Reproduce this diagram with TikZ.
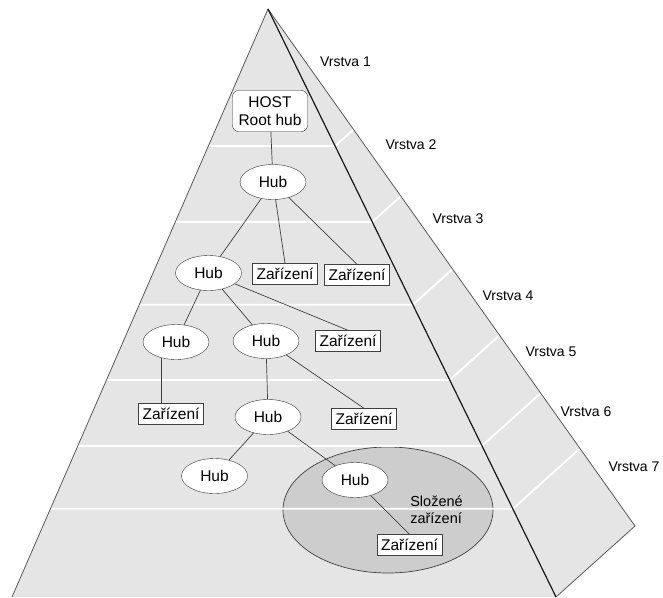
\documentclass[tikz,border=0pt]{standalone}
\usepackage{fontspec}
\setmainfont{Liberation Sans}
\usetikzlibrary{shapes.geometric,calc}
\definecolor{faceGray}{RGB}{229,229,229}
\definecolor{compGray}{RGB}{205,205,205}
\begin{document}
\begin{tikzpicture}[x=1pt,y=-1pt,
  hub/.style={ellipse,draw=black!80,fill=white,minimum width=66,minimum height=35,inner sep=0pt,font=\fontsize{15.5}{18}\selectfont},
  dev/.style={rectangle,draw=black!75,fill=white,minimum width=65,minimum height=21,inner sep=1pt,font=\fontsize{15.5}{18}\selectfont},
  layer/.style={font=\fontsize{14}{16}\selectfont},
  link/.style={draw=black!75,line width=0.7pt}]
  \useasboundingbox (0,0) rectangle (663,597);
  \coordinate (top) at (268,9);
  \coordinate (lft) at (12,597);
  \coordinate (frt) at (556,597);
  \coordinate (bck) at (635,526);
  \fill[faceGray] (top) -- (bck) -- (frt) -- cycle;
  \fill[faceGray] (top) -- (lft) -- (frt) -- cycle;
  \node[ellipse,draw=black!75,fill=compGray,minimum width=210,minimum height=126,line width=0.7pt] (comp) at (388,510) {};
  \foreach \t in {0.233,0.362,0.503,0.631,0.743,0.850}
    \draw[white,line width=1.8pt] ($(top)!\t!(lft)$) -- ($(top)!\t!(frt)$) -- ($(top)!\t!(bck)$);
  \draw[black!65,line width=0.8pt] (top) -- (lft);
  \draw[black!65,line width=0.8pt] (top) -- (bck) -- (frt);
  \draw[black!90,line width=1.2pt] (top) -- (frt);
  \node[layer] (v1) at (345.5,62) {Vrstva 1};
  \node[layer] (v2) at (411,145) {Vrstva 2};
  \node[layer] (v3) at (458,219) {Vrstva 3};
  \node[layer] (v4) at (508,296) {Vrstva 4};
  \node[layer] (v5) at (551,352) {Vrstva 5};
  \node[layer] (v6) at (586,412) {Vrstva 6};
  \node[layer] (v7) at (634,467) {Vrstva 7};
  \node[draw=black!80,fill=white,rounded corners=6pt,minimum width=75,minimum height=41,inner sep=1pt,align=center,font=\fontsize{15.5}{18.5}\selectfont] (host) at (270,111) {HOST\\Root hub};
  \node[hub] (hA) at (273,182) {Hub};
  \node[hub] (hB) at (208.5,273) {Hub};
  \node[dev] (dA) at (285,274) {Zařízení};
  \node[dev] (dB) at (357,275) {Zařízení};
  \node[hub] (hC) at (176,342) {Hub};
  \node[hub] (hD) at (266,341) {Hub};
  \node[dev] (dC) at (348,341) {Zařízení};
  \node[dev] (dD) at (171,414) {Zařízení};
  \node[hub] (hE) at (268,417) {Hub};
  \node[dev] (dE) at (364,419) {Zařízení};
  \node[hub] (hF) at (214.5,476) {Hub};
  \node[hub] (hG) at (355,480) {Hub};
  \node[dev] (dF) at (409.5,545) {Zařízení};
  \node[align=left,font=\fontsize{14.5}{17}\selectfont] (ctext) at (436.5,510) {Složené\\zařízení};
  \draw[link] (host) -- (hA);
  \draw[link] (hA) -- (hB);
  \draw[link] (hA) -- (dA.north);
  \draw[link] (hA) -- (dB.north);
  \draw[link] (hB) -- (hC);
  \draw[link] (hB) -- (hD);
  \draw[link] (hB) -- (dC.north);
  \draw[link] (hC.227) -- (hC.227 |- dD.north);
  \draw[link] (hD) -- (hE);
  \draw[link] (hD) -- (dE.north);
  \draw[link] (hE) -- (hF);
  \draw[link] (hE) -- (hG);
  \draw[link] (hG) -- (dF.north);
\end{tikzpicture}
\end{document}
